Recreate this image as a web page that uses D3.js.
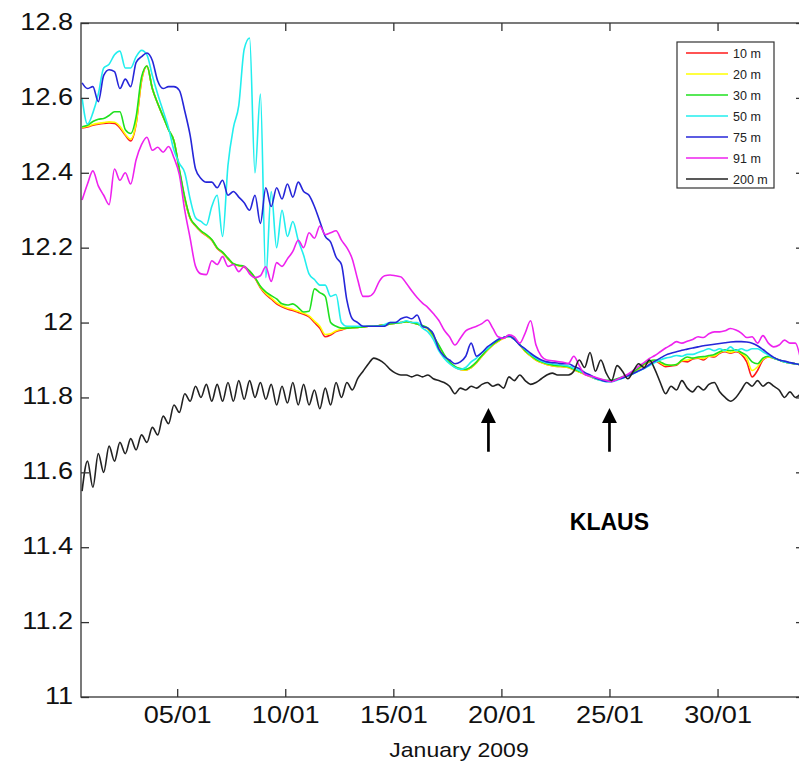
<!DOCTYPE html>
<html>
<head>
<meta charset="utf-8">
<script src="https://cdn.jsdelivr.net/npm/d3@7"></script>
<style>
  body { margin: 0; background: #fff; }
  svg { display: block; }
  text { font-family: "Liberation Sans", Arial, Helvetica, sans-serif; }
</style>
</head>
<body>
<svg id="chart" width="799" height="765"></svg>
<script>
// Sea temperature (°C) at several depths, January 2009, one value every 6 hours
const depths = ["10 m", "20 m", "30 m", "50 m", "75 m", "91 m", "200 m"];
const depthColors = ["#ff1a1a", "#ffff00", "#1fe01f", "#22eeee", "#2626d9", "#ee22ee", "#222222"];
const startDay = 0.6;   // day of January of the first sample
const stepDays = 0.25;  // 6-hourly sampling

const temp10m = [
  12.52,12.522,12.527,12.53,12.532,12.533,12.532,12.52,12.50,12.485,
  12.53,12.645,12.685,12.625,12.585,12.55,12.515,12.485,12.405,12.33,
  12.278,12.258,12.243,12.232,12.22,12.198,12.186,12.17,12.156,12.152,
  12.148,12.135,12.118,12.093,12.075,12.063,12.05,12.042,12.036,12.032,
  12.027,12.022,12.015,12.0,11.985,11.962,11.967,11.976,11.98,11.985,
  11.986,11.987,11.988,11.99,11.99,11.992,11.993,11.996,11.998,12.0,
  12.002,12.0,11.996,11.99,11.983,11.962,11.937,11.912,11.893,11.881,
  11.875,11.873,11.88,11.893,11.91,11.926,11.94,11.95,11.958,11.962,
  11.955,11.94,11.923,11.911,11.9,11.893,11.888,11.885,11.883,11.882,
  11.88,11.874,11.868,11.862,11.856,11.85,11.846,11.844,11.844,11.848,
  11.853,11.858,11.866,11.876,11.888,11.895,11.898,11.89,11.882,11.884,
  11.886,11.897,11.895,11.903,11.905,11.90,11.91,11.908,11.918,11.922,
  11.918,11.922,11.915,11.895,11.855,11.872,11.90,11.908,11.905,11.90,
  11.895,11.892,11.89,11.887
];
const temp20m = [
  12.521,12.524,12.529,12.532,12.534,12.536,12.535,12.524,12.503,12.49,
  12.532,12.647,12.685,12.625,12.585,12.55,12.515,12.485,12.407,12.332,
  12.279,12.259,12.244,12.233,12.221,12.199,12.187,12.171,12.157,12.152,
  12.149,12.136,12.12,12.095,12.078,12.066,12.053,12.045,12.039,12.035,
  12.03,12.025,12.018,12.004,11.99,11.968,11.97,11.978,11.982,11.985,
  11.986,11.987,11.988,11.99,11.99,11.992,11.993,11.996,11.998,12.0,
  12.002,12.0,11.996,11.99,11.983,11.962,11.937,11.912,11.893,11.881,
  11.875,11.873,11.88,11.893,11.91,11.926,11.94,11.95,11.958,11.962,
  11.955,11.94,11.923,11.911,11.9,11.893,11.888,11.885,11.883,11.882,
  11.88,11.874,11.868,11.862,11.856,11.85,11.846,11.844,11.844,11.848,
  11.853,11.859,11.867,11.877,11.889,11.896,11.899,11.893,11.886,11.886,
  11.888,11.898,11.90,11.904,11.906,11.904,11.91,11.911,11.92,11.924,
  11.92,11.924,11.918,11.905,11.872,11.882,11.902,11.908,11.905,11.90,
  11.895,11.892,11.89,11.887
];
const temp30m = [
  12.523,12.527,12.537,12.543,12.545,12.553,12.563,12.563,12.515,12.505,
  12.55,12.655,12.685,12.625,12.585,12.55,12.515,12.485,12.41,12.335,
  12.28,12.26,12.245,12.235,12.222,12.20,12.188,12.172,12.157,12.153,
  12.15,12.138,12.12,12.097,12.082,12.072,12.063,12.05,12.047,12.05,
  12.04,12.028,12.03,12.09,12.08,12.07,12.0,11.99,11.985,11.985,
  11.986,11.987,11.988,11.99,11.99,11.992,11.993,11.996,11.998,12.0,
  12.002,12.0,11.996,11.992,11.985,11.965,11.94,11.915,11.895,11.883,
  11.877,11.875,11.882,11.895,11.912,11.928,11.942,11.952,11.96,11.964,
  11.957,11.942,11.925,11.913,11.902,11.895,11.89,11.887,11.885,11.884,
  11.882,11.876,11.87,11.864,11.858,11.852,11.848,11.846,11.846,11.85,
  11.855,11.86,11.868,11.878,11.89,11.897,11.90,11.895,11.888,11.886,
  11.888,11.90,11.908,11.905,11.908,11.909,11.912,11.915,11.922,11.927,
  11.925,11.927,11.92,11.912,11.895,11.89,11.905,11.91,11.905,11.90,
  11.895,11.892,11.89,11.887
];
const temp50m = [
  12.60,12.53,12.56,12.61,12.68,12.69,12.715,12.725,12.68,12.68,
  12.71,12.727,12.715,12.66,12.61,12.565,12.52,12.46,12.425,12.40,
  12.33,12.28,12.27,12.26,12.31,12.34,12.23,12.42,12.52,12.58,
  12.73,12.76,12.40,12.61,12.12,12.35,12.20,12.30,12.23,12.27,
  12.22,12.18,12.13,12.115,12.10,12.10,12.07,12.075,12.00,11.99,
  11.99,11.99,11.99,11.99,11.99,11.99,11.995,12.00,12.00,12.00,
  12.005,12.00,12.00,11.985,11.975,11.955,11.925,11.905,11.89,11.88,
  11.875,11.88,11.895,11.905,11.92,11.93,11.945,11.955,11.96,11.962,
  11.955,11.94,11.928,11.915,11.905,11.897,11.892,11.89,11.888,11.886,
  11.884,11.878,11.872,11.864,11.857,11.85,11.845,11.842,11.842,11.846,
  11.851,11.857,11.863,11.87,11.877,11.885,11.893,11.90,11.905,11.908,
  11.912,11.91,11.915,11.915,11.92,11.925,11.93,11.925,11.93,11.925,
  11.935,11.925,11.93,11.925,11.93,11.93,11.922,11.913,11.905,11.90,
  11.895,11.892,11.89,11.887
];
const temp75m = [
  12.64,12.625,12.63,12.59,12.66,12.675,12.67,12.625,12.65,12.63,
  12.695,12.71,12.72,12.70,12.645,12.625,12.63,12.63,12.62,12.565,
  12.50,12.41,12.385,12.375,12.375,12.36,12.38,12.34,12.35,12.335,
  12.32,12.30,12.34,12.265,12.36,12.31,12.36,12.33,12.37,12.335,
  12.375,12.35,12.34,12.31,12.27,12.23,12.215,12.175,12.155,12.06,
  12.01,12.00,11.99,11.99,11.99,11.99,11.99,12.00,12.00,12.01,
  12.015,12.01,12.02,11.99,11.985,11.97,11.93,11.91,11.90,11.89,
  11.895,11.91,11.945,11.91,11.92,11.935,11.945,11.955,11.96,11.964,
  11.955,11.94,11.93,11.918,11.908,11.90,11.895,11.893,11.892,11.89,
  11.89,11.883,11.877,11.867,11.86,11.852,11.847,11.843,11.843,11.848,
  11.852,11.858,11.864,11.871,11.878,11.888,11.897,11.905,11.913,11.918,
  11.922,11.926,11.929,11.932,11.935,11.938,11.94,11.942,11.944,11.946,
  11.948,11.949,11.949,11.948,11.945,11.938,11.928,11.917,11.907,11.90,
  11.897,11.893,11.89,11.887
];
const temp91m = [
  12.327,12.37,12.405,12.365,12.34,12.315,12.41,12.38,12.40,12.37,
  12.435,12.475,12.495,12.46,12.468,12.455,12.47,12.44,12.395,12.30,
  12.225,12.15,12.13,12.128,12.165,12.155,12.176,12.15,12.155,12.136,
  12.15,12.13,12.12,12.125,12.149,12.11,12.16,12.15,12.17,12.19,
  12.22,12.20,12.24,12.225,12.258,12.235,12.24,12.245,12.22,12.20,
  12.17,12.115,12.07,12.07,12.08,12.11,12.125,12.127,12.125,12.122,
  12.105,12.085,12.067,12.052,12.04,12.024,12.006,11.98,11.962,11.94,
  11.958,11.978,11.985,11.99,11.997,12.007,11.985,11.962,11.958,11.967,
  11.962,11.945,11.972,12.005,11.94,11.91,11.90,11.898,11.896,11.894,
  11.891,11.91,11.885,11.862,11.857,11.854,11.849,11.845,11.842,11.848,
  11.855,11.862,11.872,11.883,11.893,11.904,11.912,11.922,11.932,11.94,
  11.949,11.945,11.95,11.955,11.962,11.96,11.97,11.975,11.975,11.978,
  11.984,11.98,11.972,11.96,11.962,11.945,11.965,11.945,11.935,11.94,
  11.953,11.945,11.945,11.90
];
const temp200m = [
  11.55,11.63,11.56,11.65,11.60,11.67,11.63,11.68,11.65,11.69,
  11.66,11.70,11.68,11.72,11.70,11.75,11.73,11.78,11.76,11.81,
  11.79,11.83,11.80,11.835,11.79,11.835,11.79,11.84,11.79,11.845,
  11.795,11.845,11.80,11.84,11.795,11.835,11.78,11.83,11.785,11.84,
  11.78,11.835,11.78,11.82,11.77,11.825,11.78,11.84,11.80,11.84,
  11.82,11.85,11.87,11.89,11.905,11.90,11.89,11.875,11.865,11.86,
  11.86,11.855,11.86,11.855,11.86,11.85,11.845,11.84,11.83,11.81,
  11.825,11.82,11.83,11.825,11.835,11.84,11.83,11.835,11.825,11.855,
  11.845,11.86,11.845,11.835,11.84,11.85,11.86,11.865,11.86,11.86,
  11.86,11.87,11.90,11.88,11.92,11.87,11.90,11.865,11.845,11.885,
  11.87,11.85,11.87,11.89,11.88,11.90,11.875,11.84,11.81,11.83,
  11.82,11.845,11.825,11.815,11.83,11.82,11.835,11.84,11.815,11.80,
  11.79,11.80,11.82,11.84,11.83,11.845,11.83,11.84,11.83,11.82,
  11.80,11.815,11.80,11.81
];
const seriesValues = [temp10m, temp20m, temp30m, temp50m, temp75m, temp91m, temp200m];

const dayTicks = [5, 10, 15, 20, 25, 30];
const tempTicks = [11, 11.2, 11.4, 11.6, 11.8, 12, 12.2, 12.4, 12.6, 12.8];
const eventDays = [19.4, 25.0];        // days marked with an arrow
const eventLabel = { text: "KLAUS", day: 25.0, temp: 11.446 };
const arrowTipTemp = 11.772, arrowTailTemp = 11.655;

// ---- layout ----
const plot = { left: 81, top: 23, right: 804, bottom: 697 };
const svg = d3.select("#chart");

const x = d3.scaleLinear().domain([0.55, 34]).range([plot.left, plot.right]);
const y = d3.scaleLinear().domain([11, 12.8]).range([plot.bottom, plot.top]);

const axisColor = "#333";
const stretch = "scale(1.13,1)";

svg.append("defs").append("clipPath").attr("id", "plotClip")
  .append("rect")
  .attr("x", plot.left).attr("y", plot.top)
  .attr("width", plot.right - plot.left).attr("height", plot.bottom - plot.top);

// data lines
const line = d3.line()
  .x((d, i) => x(startDay + i * stepDays))
  .y(d => y(d))
  .curve(d3.curveMonotoneX);

const lines = svg.append("g").attr("clip-path", "url(#plotClip)");
seriesValues.forEach((vals, k) => {
  lines.append("path")
    .datum(vals)
    .attr("fill", "none")
    .attr("stroke", depthColors[k])
    .attr("stroke-width", 1.6)
    .attr("stroke-linejoin", "round")
    .attr("d", line);
});

// axes (ticks point inward, box on all sides)
function styleAxis(g) {
  g.select(".domain").remove();
  g.selectAll(".tick line").attr("stroke", axisColor).attr("stroke-width", 1.3);
}

svg.append("g")
  .attr("transform", `translate(0,${plot.bottom})`)
  .call(d3.axisBottom(x).tickValues(dayTicks)
    .tickFormat(d => String(d).padStart(2, "0") + "/01")
    .tickSizeInner(-8).tickSizeOuter(0))
  .call(styleAxis)
  .call(g => g.selectAll("text")
    .attr("y", 26).attr("dy", 0)
    .attr("font-size", 24).attr("fill", "#111")
    .attr("transform", stretch));

svg.append("g")
  .attr("transform", `translate(0,${plot.top})`)
  .call(d3.axisTop(x).tickValues(dayTicks).tickFormat("").tickSizeInner(-8).tickSizeOuter(0))
  .call(styleAxis);

svg.append("g")
  .attr("transform", `translate(${plot.left},0)`)
  .call(d3.axisLeft(y).tickValues(tempTicks)
    .tickFormat(d => String(+d.toFixed(1)))
    .tickSizeInner(-8).tickSizeOuter(0).tickPadding(7))
  .call(styleAxis)
  .call(g => g.selectAll("text")
    .attr("dy", "0.27em")
    .attr("font-size", 24).attr("fill", "#111")
    .attr("transform", stretch));

svg.append("g")
  .attr("transform", `translate(${plot.right},0)`)
  .call(d3.axisRight(y).tickValues(tempTicks).tickFormat("").tickSizeInner(-8).tickSizeOuter(0))
  .call(styleAxis);

svg.append("rect")
  .attr("x", plot.left).attr("y", plot.top)
  .attr("width", plot.right - plot.left).attr("height", plot.bottom - plot.top)
  .attr("fill", "none").attr("stroke", axisColor).attr("stroke-width", 1.3);

// x axis title
svg.append("text")
  .attr("transform", "translate(459,757) scale(1.15,1)")
  .attr("text-anchor", "middle")
  .attr("font-size", 20).attr("fill", "#111")
  .text("January 2009");

// storm arrows and label
const arrows = svg.append("g");
eventDays.forEach(d => {
  const ax = x(d), tip = y(arrowTipTemp);
  arrows.append("line")
    .attr("x1", ax).attr("x2", ax)
    .attr("y1", y(arrowTailTemp)).attr("y2", tip + 12)
    .attr("stroke", "#000").attr("stroke-width", 2.7);
  arrows.append("path")
    .attr("d", `M${ax},${tip} L${ax - 7.5},${tip + 15} L${ax + 7.5},${tip + 15} Z`)
    .attr("fill", "#000");
});
svg.append("text")
  .attr("x", x(eventLabel.day)).attr("y", y(eventLabel.temp))
  .attr("text-anchor", "middle")
  .attr("font-size", 23).attr("font-weight", "bold").attr("fill", "#000")
  .text(eventLabel.text);

// legend
const legend = svg.append("g").attr("transform", "translate(677,42)");
legend.append("rect")
  .attr("width", 97).attr("height", 146)
  .attr("fill", "#fff").attr("stroke", axisColor).attr("stroke-width", 1.2);
depths.forEach((name, k) => {
  const ry = 11 + k * 21;
  legend.append("line")
    .attr("x1", 9).attr("x2", 51).attr("y1", ry).attr("y2", ry)
    .attr("stroke", depthColors[k]).attr("stroke-width", 1.6);
  legend.append("text")
    .attr("x", 56).attr("y", ry + 4.5)
    .attr("font-size", 12.5).attr("fill", "#222")
    .text(name);
});
</script>
</body>
</html>
